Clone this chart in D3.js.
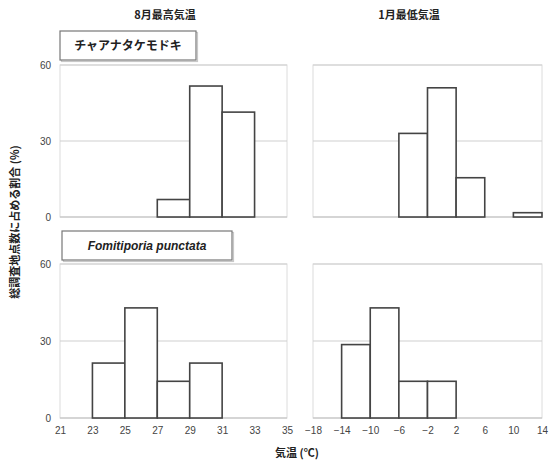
<!DOCTYPE html>
<html>
<head>
<meta charset="utf-8">
<script src="https://cdn.jsdelivr.net/npm/d3@7"></script>
<style>
  html, body { margin: 0; padding: 0; background: #fff; }
  svg { display: block; }
  text { font-family: "Liberation Sans", Arial, "Noto Sans CJK JP", sans-serif; }
  .jp { font-family: "Noto Sans CJK JP", sans-serif; font-weight: 700; }
</style>
</head>
<body>
<svg id="chart" width="549" height="464"></svg>
<script>
// Histogram bins (percent of all survey sites) for two species
const columnTitles = ["8月最高気温", "1月最低気温"];
const speciesNames = ["チャアナタケモドキ", "Fomitiporia punctata"];

// August maximum temperature: bin edges and ticks
const augTicks = [21, 23, 25, 27, 29, 31, 33, 35];
// January minimum temperature: bin edges and ticks
const janTicks = [-18, -14, -10, -6, -2, 2, 6, 10, 14];

const yTicks = [0, 30, 60];

// Bins: [from, to, percent]
const chaAug = [[27, 29, 6.9], [29, 31, 51.7], [31, 33, 41.4]];
const chaJan = [[-6, -2, 33], [-2, 2, 51], [2, 6, 15.5], [10, 14, 1.7]];
const fpAug  = [[23, 25, 21.4], [25, 27, 42.9], [27, 29, 14.3], [29, 31, 21.4]];
const fpJan  = [[-14, -10, 28.6], [-10, -6, 42.9], [-6, -2, 14.3], [-2, 2, 14.3]];

const svg = d3.select("#chart");

const cols = [
  { x0: 60, x1: 287, domain: [21, 35], ticks: augTicks },
  { x0: 313, x1: 542, domain: [-18, 14], ticks: janTicks }
];
const rows = [
  { y0: 65, y1: 217, data: [chaAug, chaJan] },
  { y0: 264, y1: 418, data: [fpAug, fpJan] }
];

const fmtTick = d => d < 0 ? "\u2212" + Math.abs(d) : String(d);

rows.forEach((row, ri) => {
  const y = d3.scaleLinear().domain([0, 60]).range([row.y1, row.y0]);
  cols.forEach((col, ci) => {
    const x = d3.scaleLinear().domain(col.domain).range([col.x0, col.x1]);
    const g = svg.append("g");

    // plot frame
    g.append("rect")
      .attr("x", col.x0).attr("y", row.y0)
      .attr("width", col.x1 - col.x0).attr("height", row.y1 - row.y0)
      .attr("fill", "#fff").attr("stroke", "#dcdcdc").attr("stroke-width", 1);

    // horizontal grid lines
    g.selectAll("line.grid").data(yTicks).join("line")
      .attr("class", "grid")
      .attr("x1", col.x0).attr("x2", col.x1)
      .attr("y1", d => y(d)).attr("y2", d => y(d))
      .attr("stroke", d => d === 0 ? "#bdbdbd" : "#cfcfcf")
      .attr("stroke-width", 1);

    // bars
    g.selectAll("rect.bar").data(row.data[ci]).join("rect")
      .attr("class", "bar")
      .attr("x", d => x(d[0]))
      .attr("y", d => y(d[2]))
      .attr("width", d => x(d[1]) - x(d[0]))
      .attr("height", d => y(0) - y(d[2]))
      .attr("fill", "#fff")
      .attr("stroke", "#444")
      .attr("stroke-width", 1.6);

    // y tick labels, left column only
    if (ci === 0) {
      const yAxis = d3.axisLeft(y).tickValues(yTicks).tickSize(0).tickPadding(9);
      const ya = svg.append("g").attr("transform", `translate(${col.x0},0)`).call(yAxis);
      ya.select(".domain").remove();
      ya.selectAll("text").attr("font-size", 10).attr("fill", "#444")
        .attr("font-family", "Liberation Sans, Arial, sans-serif");
    }

    // x tick labels, bottom row only
    if (ri === 1) {
      const xAxis = d3.axisBottom(x).tickValues(col.ticks).tickSize(0).tickPadding(9)
        .tickFormat(fmtTick);
      const xa = svg.append("g").attr("transform", `translate(0,${row.y1})`).call(xAxis);
      xa.select(".domain").remove();
      xa.selectAll("text").attr("font-size", 10).attr("fill", "#444")
        .attr("font-family", "Liberation Sans, Arial, sans-serif");
    }
  });
});

// column titles
svg.selectAll("text.coltitle").data(columnTitles).join("text")
  .attr("class", "coltitle jp")
  .attr("x", (d, i) => [165, 409][i])
  .attr("y", 19)
  .attr("text-anchor", "middle")
  .attr("font-size", 11)
  .attr("fill", "#222")
  .text(d => d);

// species label boxes
const boxes = [
  { x: 60, y: 31, w: 136, h: 29, italic: false },
  { x: 62, y: 231, w: 170, h: 29, italic: true }
];
boxes.forEach((b, i) => {
  svg.append("rect")
    .attr("x", b.x + 1.5).attr("y", b.y + 1.5).attr("width", b.w).attr("height", b.h)
    .attr("fill", "none").attr("stroke", "#c8c8c8").attr("stroke-width", 1.2);
  svg.append("rect")
    .attr("x", b.x).attr("y", b.y).attr("width", b.w).attr("height", b.h)
    .attr("fill", "#fff").attr("stroke", "#777").attr("stroke-width", 1.2);
  const t = svg.append("text")
    .attr("x", b.x + b.w / 2).attr("y", b.y + b.h / 2 + 4.5)
    .attr("text-anchor", "middle")
    .attr("font-size", 12)
    .attr("fill", "#222")
    .text(speciesNames[i]);
  if (b.italic) {
    t.attr("font-style", "italic").attr("font-weight", 700)
      .attr("font-family", "Liberation Sans, Arial, sans-serif");
  } else {
    t.attr("class", "jp");
  }
});

// axis titles
svg.append("text")
  .attr("class", "jp")
  .attr("x", 297).attr("y", 457)
  .attr("text-anchor", "middle")
  .attr("font-size", 11)
  .attr("fill", "#222")
  .text("気温 (℃)");

svg.append("text")
  .attr("class", "jp")
  .attr("transform", "translate(19,222) rotate(-90)")
  .attr("text-anchor", "middle")
  .attr("font-size", 11)
  .attr("fill", "#222")
  .text("総調査地点数に占める割合 (%)");
</script>
</body>
</html>
